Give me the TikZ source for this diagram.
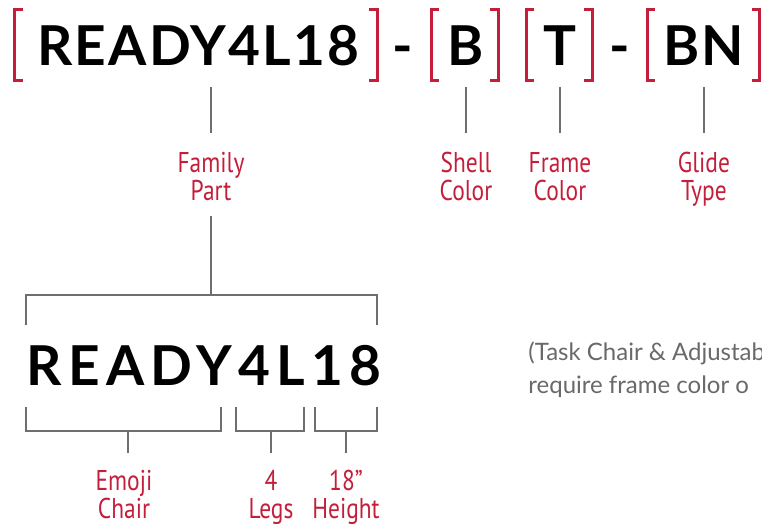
\documentclass[tikz,border=0pt]{standalone}
\usepackage{fontspec}
\setmainfont{Lato}
\newfontfamily\labelfont[FakeStretch=0.82]{PT Sans}
\usetikzlibrary{positioning}
\definecolor{partred}{RGB}{196,30,58}
\definecolor{tickgray}{RGB}{110,110,110}
\definecolor{notegray}{RGB}{105,105,105}

% red square bracket pair round one part of the code
\newcommand\redpair[2]{%
  \draw[brk] (#1+8,9) -- (#1,9) -- (#1,80) -- (#1+8,80);
  \draw[brk] (#2-8,9) -- (#2,9) -- (#2,80) -- (#2-8,80);
}
% grey span bracket under/over a piece of the code
\newcommand\spanline[4]{%
  \draw[tick] (#1,#3) -- (#1,#4) -- (#2,#4) -- (#2,#3);
}

\begin{document}
\begin{tikzpicture}[%
  x=0.5pt, y=-0.5pt,
  node distance=9.5pt,
  code/.style={%
    inner sep=0pt,
    font={\fontsize{27.5}{27.5}\selectfont\bfseries\addfontfeature{LetterSpace=4}},
  },
  bigcode/.style={%
    inner sep=0pt,
    font={\fontsize{27.5}{27.5}\selectfont\bfseries\addfontfeature{LetterSpace=11.5}},
  },
  lbl/.style={%
    inner sep=0pt,
    text=partred,
    align=center,
    font={\labelfont\fontsize{14.3}{14}\selectfont},
  },
  note/.style={%
    inner sep=0pt,
    text=notegray,
    align=left,
    font={\fontsize{12}{16.5}\selectfont},
  },
  brk/.style={%
    draw=partred,
    line width=1.5pt,
    line join=miter,
  },
  tick/.style={%
    draw=tickgray,
    line width=1pt,
  }
]
  \useasboundingbox (0,0) rectangle (762,526);
  \clip (0,0) rectangle (762,526);

  % top code
  \node [code, anchor=base west] (family) at (37,65) {READY4L18};
  \node [code, anchor=base] (dasha) at (403,65) {-};
  \node [code, anchor=base] (shell) at (466,65) {B};
  \node [code, anchor=base] (frame) at (560,65) {T};
  \node [code, anchor=base] (dashb) at (620,65) {-};
  \node [code, anchor=base] (glide) at (704,65) {BN};

  \redpair{14.5}{377}
  \redpair{431}{498}
  \redpair{526}{592}
  \redpair{647}{759.5}

  % ticks down to the labels
  \coordinate (familytop) at (211,87);
  \coordinate (familybot) at (211,133);
  \coordinate (shelltop) at (466,87);
  \coordinate (shellbot) at (466,133);
  \coordinate (frametop) at (560,87);
  \coordinate (framebot) at (560,133);
  \coordinate (glidetop) at (704,87);
  \coordinate (glidebot) at (704,133);
  \draw [tick] (familytop) -- (familybot);
  \draw [tick] (shelltop) -- (shellbot);
  \draw [tick] (frametop) -- (framebot);
  \draw [tick] (glidetop) -- (glidebot);

  \node [lbl, below=of familybot] (familylbl) {Family\\Part};
  \node [lbl, below=of shellbot] (shelllbl) {Shell\\Color};
  \node [lbl, below=of framebot] (framelbl) {Frame\\Color};
  \node [lbl, below=of glidebot] (glidelbl) {Glide\\Type};

  % family part broken down
  \coordinate (familyjoin) at (211,295);
  \draw [tick] ([yshift=-7.5pt]familylbl.south) -- (familyjoin);
  \spanline{26}{377}{325}{295}

  \node [bigcode, anchor=base west] (bigfamily) at (26,385) {READY4L18};

  \spanline{26}{221}{407}{431}
  \spanline{236}{304}{407}{431}
  \spanline{315}{377}{407}{431}
  \coordinate (emojitop) at (128,431);
  \coordinate (emojibot) at (128,453);
  \coordinate (legstop) at (271,431);
  \coordinate (legsbot) at (271,453);
  \coordinate (heighttop) at (346,431);
  \coordinate (heightbot) at (346,453);
  \draw [tick] (emojitop) -- (emojibot);
  \draw [tick] (legstop) -- (legsbot);
  \draw [tick] (heighttop) -- (heightbot);

  \node [lbl, below=8.5pt of emojibot, xshift=-2pt] (emojilbl) {Emoji\\Chair};
  \node [lbl, below=8.5pt of legsbot] (legslbl) {4\\Legs};
  \node [lbl, below=8.5pt of heightbot] (heightlbl) {18”\\Height};

  % note at the right, cut by the edge
  \node [note, anchor=base west] (note) at (528,393) {(Task Chair \& Adjustab\\require frame color o};
\end{tikzpicture}
\end{document}
